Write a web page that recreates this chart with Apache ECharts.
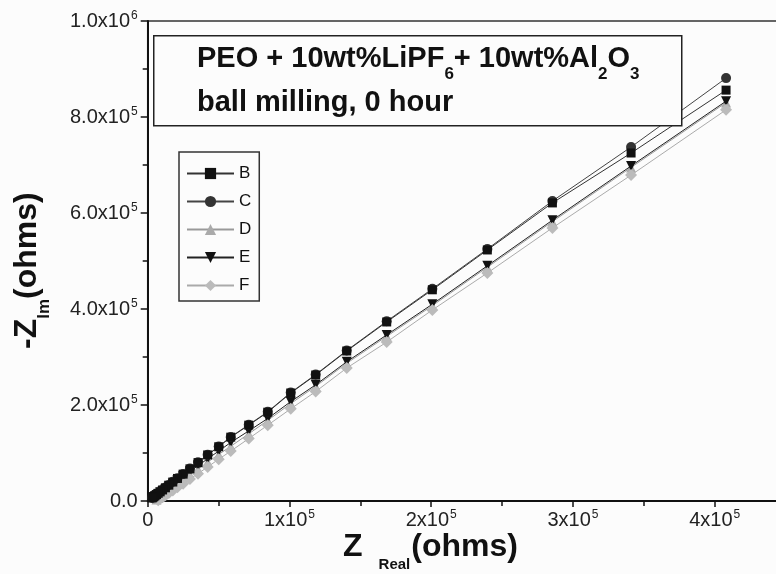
<!DOCTYPE html>
<html>
<head>
<meta charset="utf-8">
<script src="https://cdn.jsdelivr.net/npm/echarts@6/dist/echarts.min.js"></script>
<style>
html,body{margin:0;padding:0;background:#fcfcfc;overflow:hidden;width:776px;height:574px;}
#chart{width:786px;height:574px;}
</style>
</head>
<body>
<div id="chart"></div>
<script>
// Z_real values (ohms), shared by all series (same frequencies)
const zReal = [408000, 341000, 285500, 239600, 200800, 168600, 140400, 118500, 100900, 84700,
  71300, 58600, 50100, 42300, 35500, 29800, 25000, 21000, 17700, 14900,
  12500, 10500, 8800, 7400, 6200, 5200, 4400, 3700, 3100];
// -Z_im values (ohms)
const zImB = [856000, 725000, 621000, 523000, 440000, 373000, 312500, 262500, 225000, 185000,
  158000, 133000, 113000, 96000, 80000, 67000, 56000, 47000, 39500, 33000,
  27500, 23000, 19000, 16000, 13300, 11000, 9200, 7600, 6300];
const zImC = [881000, 737500, 625000, 525000, 442000, 374500, 313500, 263500, 226000, 186000,
  159000, 133500, 113500, 96500, 80500, 67500, 56500, 47500, 40000, 33500,
  28000, 23500, 19500, 16400, 13600, 11300, 9400, 7800, 6500];
const zImD = [830000, 695000, 582000, 487000, 407000, 343000, 287000, 239000, 203000, 168000,
  140000, 114000, 97000, 81000, 66000, 54000, 44000, 36000, 29000, 23000,
  18000, 13500, 9500, 6000, 3000];
const zImE = [833000, 698000, 585000, 490000, 410000, 346000, 290000, 242000, 207000, 172000,
  146000, 122000, 104000, 88000, 73500, 61500, 51500, 43000, 36000, 30000,
  25000, 21000, 17500, 14500, 12100, 10100, 8400, 7000, 5800];
const zImF = [815000, 679000, 569000, 475000, 398000, 331000, 277000, 228000, 192000, 158000,
  130000, 104000, 87000, 71000, 57000, 46000, 36000, 28500, 22000, 16500,
  12000, 8000, 4500, 1500];
const seriesNames = ['B', 'C', 'D', 'E', 'F'];
const xTicks = [0, 100000, 200000, 300000, 400000];
const yTicks = [0, 200000, 400000, 600000, 800000, 1000000];

const pairs = (ys) => ys.map((y, i) => [zReal[i], y]);

const chart = echarts.init(document.getElementById('chart'));
const FONT = '"Liberation Sans", Arial, sans-serif';

const styles = {
  B: {symbol: 'rect', size: 9, color: '#111', line: '#333', rot: 0},
  C: {symbol: 'circle', size: 10, color: '#333', line: '#444', rot: 0},
  D: {symbol: 'triangle', size: 10, color: '#aaa', line: '#999', rot: 0},
  E: {symbol: 'triangle', size: 10, color: '#111', line: '#222', rot: 180},
  F: {symbol: 'diamond', size: 12, color: '#bbb', line: '#aaa', rot: 0}
};
const dataMap = {B: zImB, C: zImC, D: zImD, E: zImE, F: zImF};
const zOrder = {B: 5, C: 4, D: 2, E: 3, F: 3};

const series = seriesNames.map(n => ({
  name: n,
  type: 'line',
  data: pairs(dataMap[n]),
  symbol: styles[n].symbol,
  symbolSize: styles[n].size,
  symbolRotate: styles[n].rot,
  showAllSymbol: true,
  z: zOrder[n],
  itemStyle: {color: styles[n].color},
  lineStyle: {color: styles[n].line, width: 1},
  animation: false
}));

const xLabel = v => {
  if (v === 0) return '{n|0}';
  return '{n|' + Math.round(v / 1e5) + 'x10}{s|5}';
};
const yLabel = v => {
  if (v === 0) return '{n|0.0}';
  if (v === 1e6) return '{n|1.0x10}{s|6}';
  return '{n|' + (v / 1e5).toFixed(1) + 'x10}{s|5}';
};
const labRich = {
  n: {fontSize: 20, fontFamily: FONT, color: '#222', lineHeight: 22},
  s: {fontSize: 12, fontFamily: FONT, color: '#222', verticalAlign: 'top', lineHeight: 22, padding: [0, 0, 10, 1]}
};

chart.setOption({
  backgroundColor: '#fcfcfc',
  animation: false,
  grid: {left: 147.7, top: 21, right: 0.4, bottom: 73, show: true, borderColor: '#333', borderWidth: 1.5, backgroundColor: 'transparent'},
  xAxis: {
    type: 'value', min: 0, max: 450000, interval: 100000,
    axisLine: {show: true, onZero: false, lineStyle: {color: '#111', width: 2}},
    axisTick: {show: true, inside: false, length: 6, lineStyle: {color: '#111', width: 1.5}},
    minorTick: {show: true, splitNumber: 2, length: 5, lineStyle: {color: '#111', width: 1.5}},
    splitLine: {show: false},
    axisLabel: {formatter: xLabel, rich: labRich, margin: 8,
      customValues: xTicks}
  },
  yAxis: {
    type: 'value', min: 0, max: 1000000, interval: 200000,
    axisLine: {show: true, onZero: false, lineStyle: {color: '#111', width: 2}},
    axisTick: {show: true, inside: false, length: 7, lineStyle: {color: '#111', width: 1.5}},
    minorTick: {show: true, splitNumber: 2, length: 5, lineStyle: {color: '#111', width: 1.5}},
    splitLine: {show: false},
    axisLabel: {formatter: yLabel, rich: labRich, margin: 10,
      customValues: yTicks}
  },
  legend: {
    show: true,
    orient: 'vertical',
    left: 179, top: 152,
    padding: [13, 8, 7, 7],
    itemWidth: 47, itemHeight: 14, itemGap: 11,
    borderColor: '#333', borderWidth: 1.5,
    backgroundColor: '#fcfcfc',
    textStyle: {fontSize: 17, fontFamily: FONT, color: '#111'},
    data: seriesNames
  },
  graphic: [
    {
      type: 'rect', left: 153, top: 35,
      shape: {width: 528, height: 90},
      style: {fill: '#fcfcfc', stroke: '#222', lineWidth: 1.5}, z: 10
    },
    {
      type: 'text', left: 197, top: 44, z: 11,
      style: {
        text: '{b|PEO + 10wt%LiPF}{s|6}{b|+ 10wt%Al}{s|2}{b|O}{s|3}',
        rich: {
          b: {fontSize: 29, fontWeight: 'bold', fontFamily: FONT, fill: '#111', lineHeight: 36, verticalAlign: 'top'},
          s: {fontSize: 17, fontWeight: 'bold', fontFamily: FONT, fill: '#111', lineHeight: 36, verticalAlign: 'top', padding: [22, 0, 0, 0]}
        }
      }
    },
    {
      type: 'text', left: 197, top: 88, z: 11,
      style: {text: 'ball milling, 0 hour', font: 'bold 29px ' + FONT, fill: '#111'}
    },
    {
      type: 'text', left: 343, top: 531, z: 11,
      style: {
        text: '{b|Z}{s|Real}{b|(ohms)}',
        rich: {
          b: {fontSize: 32, fontWeight: 'bold', fontFamily: FONT, fill: '#111', lineHeight: 38, verticalAlign: 'top'},
          s: {fontSize: 15, fontWeight: 'bold', fontFamily: FONT, fill: '#111', lineHeight: 38, verticalAlign: 'top', padding: [26, 1, 0, 16]}
        }
      }
    },
    {
      type: 'text', x: 11, y: 349, rotation: Math.PI / 2, z: 11,
      style: {
        text: '{b|-Z}{s|lm}{b|(ohms)}',
        rich: {
          b: {fontSize: 32, fontWeight: 'bold', fontFamily: FONT, fill: '#111', lineHeight: 38, verticalAlign: 'top'},
          s: {fontSize: 17, fontWeight: 'bold', fontFamily: FONT, fill: '#111', lineHeight: 38, verticalAlign: 'top', padding: [25, 0, 0, 0]}
        }
      }
    }
  ],
  series: series
});
</script>
</body>
</html>
